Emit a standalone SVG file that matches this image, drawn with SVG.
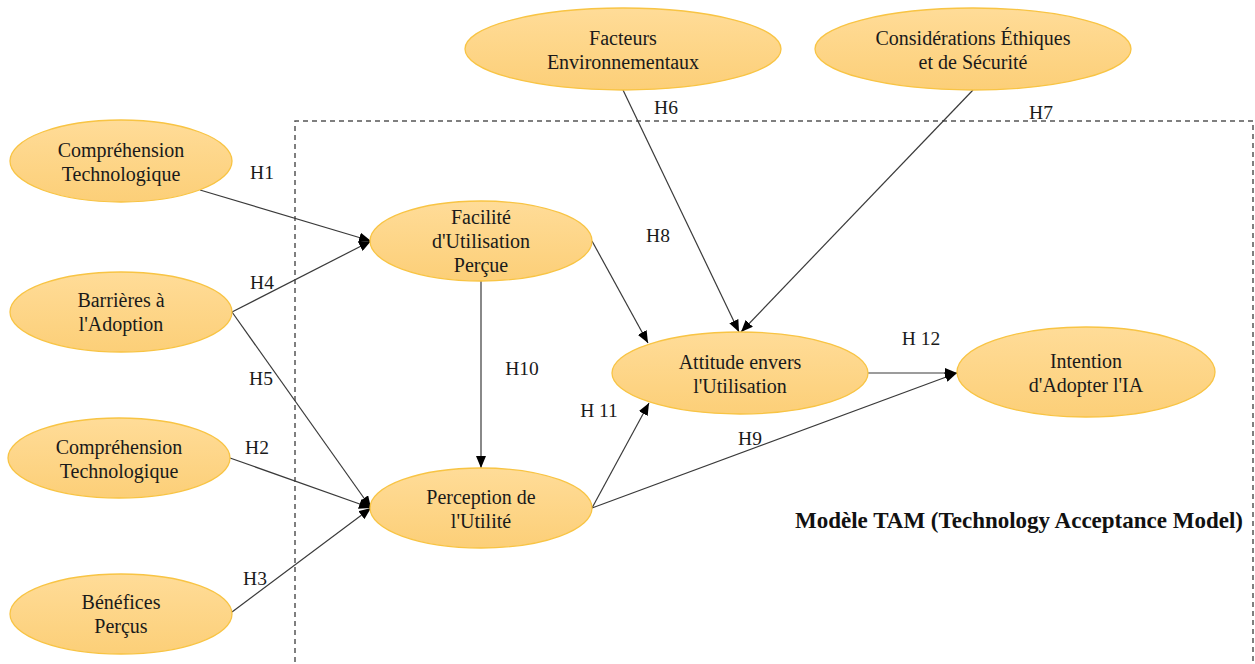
<svg xmlns="http://www.w3.org/2000/svg" width="1255" height="664" viewBox="0 0 1255 664">
<defs>
<linearGradient id="g" x1="0" y1="0" x2="0" y2="1">
<stop offset="0" stop-color="#FFDC98"/>
<stop offset="1" stop-color="#FCCF78"/>
</linearGradient>
<marker id="arr" viewBox="0 0 12 10" refX="12" refY="5" markerWidth="12" markerHeight="10" markerUnits="userSpaceOnUse" orient="auto">
<path d="M0,0 L12,5 L0,10 Z" fill="#000"/>
</marker>
<style>
.n{fill:url(#g);stroke:#F8C444;stroke-width:1.3}
.t{font-family:"Liberation Serif","Times New Roman",serif;font-size:20px;fill:#1a1a1a;text-anchor:middle}
.h{font-family:"Liberation Serif","Times New Roman",serif;font-size:19.5px;fill:#1a1a1a;text-anchor:middle}
.c{stroke:#3a3a3a;stroke-width:1.2;fill:none;marker-end:url(#arr)}
.b{font-family:"Liberation Serif","Times New Roman",serif;font-size:22.5px;font-weight:bold;fill:#111}
</style>
</defs>
<rect width="1255" height="664" fill="#fff"/>
<g id="boundary">
<path d="M295,680 L295,121 L1253,121 L1253,680" fill="none" stroke="#555" stroke-width="1.5" stroke-dasharray="5,4"/>
</g>
<g id="connectors">
<line class="c" x1="200" y1="190" x2="371" y2="241"/>
<line class="c" x1="232" y1="312" x2="371" y2="241"/>
<line class="c" x1="232" y1="312" x2="371" y2="508"/>
<line class="c" x1="230" y1="458" x2="371" y2="508"/>
<line class="c" x1="232" y1="612" x2="371" y2="508"/>
<line class="c" x1="481" y1="281" x2="481" y2="468"/>
<line class="c" x1="592" y1="241" x2="648" y2="343"/>
<line class="c" x1="623" y1="90" x2="739" y2="332"/>
<line class="c" x1="973" y1="90" x2="741" y2="332"/>
<line class="c" x1="592" y1="508" x2="649" y2="403"/>
<line class="c" x1="592" y1="508" x2="957" y2="373"/>
<line class="c" x1="868" y1="373" x2="957" y2="373"/>
</g>
<g id="labels">
<text class="h" x="262" y="179">H1</text>
<text class="h" x="262" y="289">H4</text>
<text class="h" x="261" y="385">H5</text>
<text class="h" x="257" y="454">H2</text>
<text class="h" x="255" y="585">H3</text>
<text class="h" x="666" y="114">H6</text>
<text class="h" x="1041" y="119">H7</text>
<text class="h" x="658" y="242">H8</text>
<text class="h" x="522" y="375">H10</text>
<text class="h" x="599" y="417">H 11</text>
<text class="h" x="750" y="445">H9</text>
<text class="h" x="921" y="345">H 12</text>
<text class="b" x="795" y="528" textLength="448" lengthAdjust="spacingAndGlyphs">Modèle TAM (Technology Acceptance Model)</text>
</g>
<g id="n-comp1"><ellipse class="n" cx="121" cy="161" rx="111" ry="41"/><text class="t" x="121" y="157">Compréhension</text><text class="t" x="121" y="181">Technologique</text></g>
<g id="n-barr"><ellipse class="n" cx="121" cy="312" rx="111" ry="40"/><text class="t" x="121" y="307">Barrières à</text><text class="t" x="121" y="331">l'Adoption</text></g>
<g id="n-comp2"><ellipse class="n" cx="119" cy="458" rx="111" ry="40"/><text class="t" x="119" y="454">Compréhension</text><text class="t" x="119" y="478">Technologique</text></g>
<g id="n-bene"><ellipse class="n" cx="121" cy="614" rx="111" ry="40"/><text class="t" x="121" y="609">Bénéfices</text><text class="t" x="121" y="633">Perçus</text></g>
<g id="n-fac"><ellipse class="n" cx="481" cy="241" rx="111" ry="40"/><text class="t" x="481" y="224">Facilité</text><text class="t" x="481" y="248">d'Utilisation</text><text class="t" x="481" y="272">Perçue</text></g>
<g id="n-perc"><ellipse class="n" cx="481" cy="508" rx="111" ry="40"/><text class="t" x="481" y="504">Perception de</text><text class="t" x="481" y="528">l'Utilité</text></g>
<g id="n-att"><ellipse class="n" cx="740" cy="373" rx="128" ry="41"/><text class="t" x="740" y="369">Attitude envers</text><text class="t" x="740" y="393">l'Utilisation</text></g>
<g id="n-int"><ellipse class="n" cx="1086" cy="372" rx="129" ry="45"/><text class="t" x="1086" y="368">Intention</text><text class="t" x="1086" y="392">d'Adopter l'IA</text></g>
<g id="n-env"><ellipse class="n" cx="623" cy="49" rx="158" ry="41"/><text class="t" x="623" y="45">Facteurs</text><text class="t" x="623" y="69">Environnementaux</text></g>
<g id="n-eth"><ellipse class="n" cx="973" cy="49" rx="158" ry="41"/><text class="t" x="973" y="45">Considérations Éthiques</text><text class="t" x="973" y="69">et de Sécurité</text></g>
</svg>
